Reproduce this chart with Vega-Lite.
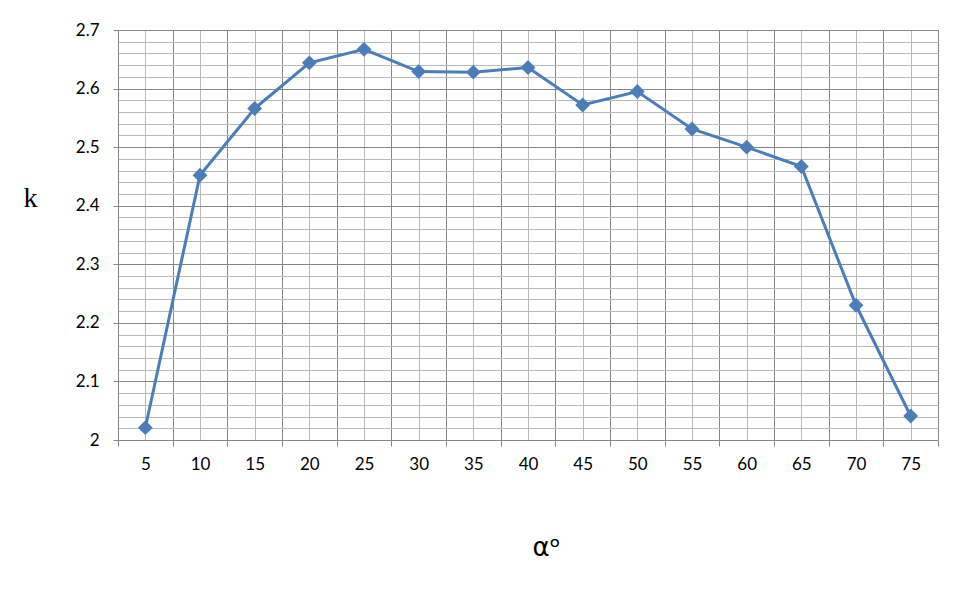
{
  "$schema": "https://vega.github.io/schema/vega-lite/v6.json",
  "autosize": "none",
  "width": 820,
  "height": 410,
  "padding": {"left": 118, "top": 30, "right": 27, "bottom": 158},
  "background": "white",
  "config": {"view": {"stroke": null}},
  "data": {"values": [
    {"a": 5, "k": 2.021},
    {"a": 10, "k": 2.452},
    {"a": 15, "k": 2.566},
    {"a": 20, "k": 2.644},
    {"a": 25, "k": 2.667},
    {"a": 30, "k": 2.629},
    {"a": 35, "k": 2.628},
    {"a": 40, "k": 2.636},
    {"a": 45, "k": 2.572},
    {"a": 50, "k": 2.595},
    {"a": 55, "k": 2.531},
    {"a": 60, "k": 2.500},
    {"a": 65, "k": 2.467},
    {"a": 70, "k": 2.230},
    {"a": 75, "k": 2.041}
  ]},
  "layer": [
    {
      "mark": {"type": "line", "color": "#4a7ebb", "strokeWidth": 3},
      "encoding": {
        "x": {"field": "a", "type": "quantitative",
          "scale": {"domain": [2.5, 77.5], "nice": false, "zero": false},
          "axis": {"orient": "bottom", "values": [5,10,15,20,25,30,35,40,45,50,55,60,65,70,75],
            "grid": true, "gridColor": "#b9b9b9", "gridWidth": 1, "ticks": false, "domain": false,
            "labelFont": "Lato", "labelFontSize": 17, "labelColor": "#000000", "labelPadding": 16,
            "title": "αᵒ", "titleFont": "DejaVu Sans", "titleFontSize": 26, "titleFontWeight": "normal",
            "titleColor": "#000000", "titleX": 428, "titleY": 94}},
        "y": {"field": "k", "type": "quantitative",
          "scale": {"domain": [2, 2.7], "nice": false, "zero": false},
          "axis": {"orient": "left", "values": [2.02,2.04,2.06,2.08,2.12,2.14,2.16,2.18,2.22,2.24,2.26,2.28,2.32,2.34,2.36,2.38,2.42,2.44,2.46,2.48,2.52,2.54,2.56,2.58,2.62,2.64,2.66,2.68],
            "grid": true, "gridColor": "#b9b9b9", "gridWidth": 1, "ticks": false, "domain": false,
            "labels": false, "title": null}}
      }
    },
    {
      "mark": {"type": "point", "shape": "diamond", "filled": true, "color": "#4a7ebb", "size": 220, "opacity": 1},
      "encoding": {
        "x": {"field": "a", "type": "quantitative",
          "scale": {"domain": [2.5, 77.5], "nice": false, "zero": false},
          "axis": {"orient": "bottom", "values": [2.5,7.5,12.5,17.5,22.5,27.5,32.5,37.5,42.5,47.5,52.5,57.5,62.5,67.5,72.5,77.5],
            "grid": true, "gridColor": "#878787", "gridWidth": 1, "ticks": true, "tickColor": "#878787", "tickSize": 6,
            "domain": true, "domainColor": "#878787", "labels": false, "title": null}},
        "y": {"field": "k", "type": "quantitative",
          "scale": {"domain": [2, 2.7], "nice": false, "zero": false},
          "axis": {"orient": "left", "values": [2,2.1,2.2,2.3,2.4,2.5,2.6,2.7], "format": "~g",
            "grid": true, "gridColor": "#878787", "gridWidth": 1, "ticks": true, "tickColor": "#878787", "tickSize": 5,
            "domain": true, "domainColor": "#878787",
            "labelFont": "Lato", "labelFontSize": 17, "labelColor": "#000000", "labelPadding": 14,
            "title": "k", "titleAngle": 0, "titleFont": "Liberation Serif", "titleFontSize": 28, "titleFontWeight": "normal",
            "titleColor": "#000000", "titleX": -88, "titleY": 168, "titleAlign": "center", "titleBaseline": "middle"}}
      }
    }
  ],
  "resolve": {"axis": {"x": "independent", "y": "independent"}}
}
